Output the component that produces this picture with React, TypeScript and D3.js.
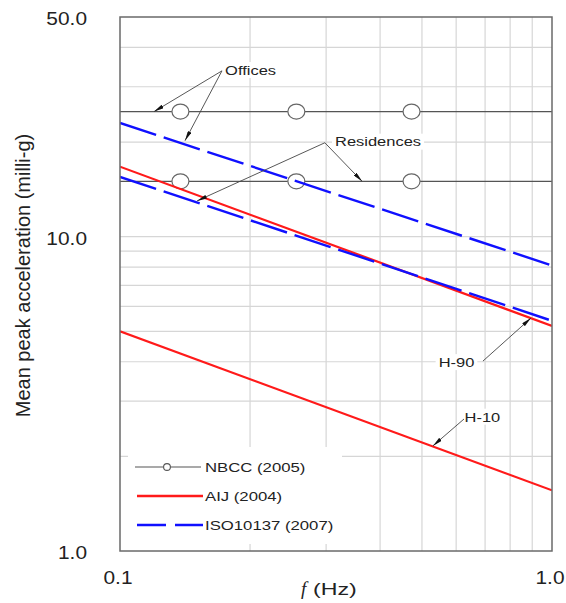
import React from 'react';
import * as d3 from 'd3';

const W = 566;
const H = 603;
const plot = { left: 120, top: 17, right: 552, bottom: 551 };

// Axes
const xDomain: [number, number] = [0.1, 1.0];
const yDomain: [number, number] = [1, 50];
const xTickValues = [0.1, 1.0];
const yTickValues = [1, 10, 50];
const xGridValues = [0.2, 0.3, 0.4, 0.5, 0.6, 0.7, 0.8, 0.9];
const yGridValues = [2, 3, 4, 5, 6, 7, 8, 9, 10, 20, 30, 40];

// NBCC (2005): constant limits in milli-g (offices, residences)
const nbccLimits = [25, 15];
const nbccMarkerFreqs = [0.138, 0.256, 0.473];

// AIJ (2004)
const aijFreqs = [0.1, 1.0];
const aijH90 = [16.7, 5.2];
const aijH10 = [5.0, 1.56];

// ISO 10137 (2007)
const isoFreqs = [0.1, 1.0];
const isoOffices = [23.0, 8.1];
const isoResidences = [15.5, 5.4];

const legendLabels = ['NBCC (2005)', 'AIJ (2004)', 'ISO10137 (2007)'];

// Callouts, anchored in data space: [frequency, acceleration]
type Pt = [number, number];
const callouts: { label: string; textAt: Pt; anchor: 'start' | 'middle'; from: Pt; to: Pt[] }[] = [
  { label: 'Offices', textAt: [0.1751, 33.9], anchor: 'start', from: [0.1722, 33.7], to: [[0.1199, 25], [0.1414, 20.2]] },
  { label: 'Residences', textAt: [0.3146, 20.06], anchor: 'start', from: [0.298, 19.9], to: [[0.1508, 13.0], [0.3634, 15.0]] },
  { label: 'H-90', textAt: [0.601, 3.99], anchor: 'middle', from: [0.692, 4.02], to: [[0.894, 5.51]] },
  { label: 'H-10', textAt: [0.69, 2.675], anchor: 'middle', from: [0.6256, 2.63], to: [[0.53, 2.16]] },
];

const FONT = '"Liberation Sans", Arial, Helvetica, sans-serif';

const x = d3.scaleLog().domain(xDomain).range([plot.left, plot.right]);
const y = d3.scaleLog().domain(yDomain).range([plot.bottom, plot.top]);

const line = d3
  .line<[number, number]>()
  .x((d) => x(d[0]))
  .y((d) => y(d[1]));

const zip = (fs: number[], vs: number[]): [number, number][] => fs.map((f, i) => [f, vs[i]]);

function SText({
  x: tx,
  y: ty,
  sx,
  size,
  anchor = 'start',
  children,
  fill = '#222',
}: {
  x: number;
  y: number;
  sx: number;
  size: number;
  anchor?: 'start' | 'middle' | 'end';
  children: React.ReactNode;
  fill?: string;
}) {
  return (
    <g transform={`translate(${tx},${ty}) scale(${sx},1)`}>
      <text textAnchor={anchor} fontSize={size} fontFamily={FONT} fill={fill}>
        {children}
      </text>
    </g>
  );
}

const CALLOUT_SIZE = 13.5;
const CALLOUT_SX = 1.22;

function approxWidth(label: string, size: number, sx: number) {
  // rough Arial advance widths, good enough for the label backgrounds
  const w: Record<string, number> = {
    O: 0.778, f: 0.278, i: 0.222, c: 0.5, e: 0.556, s: 0.5, R: 0.722, d: 0.556, n: 0.556,
    H: 0.722, '-': 0.333, '0': 0.556, '1': 0.556, '9': 0.556,
  };
  let t = 0;
  for (const ch of label) t += w[ch] ?? 0.556;
  return t * size * sx;
}

export default function App() {
  const nbccOfficesLine = nbccLimits[0];
  const nbccResLine = nbccLimits[1];

  return (
    <svg
      width={W}
      height={H}
      viewBox={`0 0 ${W} ${H}`}
      style={{ position: 'absolute', left: 0, top: 0, background: '#fff' }}
    >
      <defs>
        <marker
          id="arrowHead"
          viewBox="0 0 10 4"
          refX={10}
          refY={2}
          markerWidth={10}
          markerHeight={4}
          markerUnits="userSpaceOnUse"
          orient="auto"
        >
          <path d="M0,0 L10,2 L0,4 Z" fill="#111" />
        </marker>
        <clipPath id="plotClip">
          <rect x={plot.left} y={plot.top} width={plot.right - plot.left} height={plot.bottom - plot.top} />
        </clipPath>
      </defs>

      {/* grid */}
      <g stroke="#d6d6d6" strokeWidth={1.2}>
        {xGridValues.map((v) => (
          <line key={`gx${v}`} x1={x(v)} x2={x(v)} y1={plot.top} y2={plot.bottom} />
        ))}
        {yGridValues.map((v) => (
          <line key={`gy${v}`} x1={plot.left} x2={plot.right} y1={y(v)} y2={y(v)} />
        ))}
      </g>

      {/* legend background */}
      <rect x={128} y={447} width={214} height={97} fill="#fff" />

      {/* callout label backgrounds */}
      {callouts.map((c) => {
        const w = approxWidth(c.label, CALLOUT_SIZE, CALLOUT_SX);
        const cx = x(c.textAt[0]);
        const cy = y(c.textAt[1]);
        const left = c.anchor === 'start' ? cx : cx - w / 2;
        return <rect key={`bg${c.label}`} x={left - 3} y={cy - 8} width={w + 6} height={16} fill="#fff" />;
      })}

      <g clipPath="url(#plotClip)">
        {/* NBCC */}
        {[nbccOfficesLine, nbccResLine].map((v) => (
          <g key={`nbcc${v}`}>
            <line x1={plot.left} x2={plot.right} y1={y(v)} y2={y(v)} stroke="#555" strokeWidth={1.1} />
            {nbccMarkerFreqs.map((f) => (
              <ellipse key={f} cx={x(f)} cy={y(v)} rx={8.5} ry={7.5} fill="#fff" stroke="#666" strokeWidth={1.2} />
            ))}
          </g>
        ))}

        {/* AIJ */}
        <path d={line(zip(aijFreqs, aijH90)) ?? ''} fill="none" stroke="#ff1a1a" strokeWidth={2.2} />
        <path d={line(zip(aijFreqs, aijH10)) ?? ''} fill="none" stroke="#ff1a1a" strokeWidth={2.2} />

        {/* ISO 10137 */}
        <path
          d={line(zip(isoFreqs, isoOffices)) ?? ''}
          fill="none"
          stroke="#1010ff"
          strokeWidth={2.4}
          strokeDasharray="38 8"
        />
        <path
          d={line(zip(isoFreqs, isoResidences)) ?? ''}
          fill="none"
          stroke="#1010ff"
          strokeWidth={2.4}
          strokeDasharray="38 8"
        />
      </g>

      {/* callouts */}
      {callouts.map((c) => {
        const cx = x(c.textAt[0]);
        const cy = y(c.textAt[1]);
        return (
          <g key={c.label}>
            {c.to.map((t, i) => (
              <line
                key={i}
                x1={x(c.from[0])}
                y1={y(c.from[1])}
                x2={x(t[0])}
                y2={y(t[1])}
                stroke="#444"
                strokeWidth={0.9}
                markerEnd="url(#arrowHead)"
              />
            ))}
            <SText x={cx} y={cy + 0.358 * CALLOUT_SIZE} sx={CALLOUT_SX} size={CALLOUT_SIZE} anchor={c.anchor}>
              {c.label}
            </SText>
          </g>
        );
      })}

      {/* frame */}
      <rect
        x={plot.left}
        y={plot.top}
        width={plot.right - plot.left}
        height={plot.bottom - plot.top}
        fill="none"
        stroke="#6a6a6a"
        strokeWidth={1.5}
      />

      {/* legend */}
      <g>
        <line x1={135} x2={201} y1={467} y2={467} stroke="#555" strokeWidth={1.1} />
        <circle cx={167} cy={467} r={3.4} fill="#fff" stroke="#555" strokeWidth={1.1} />
        <line x1={137} x2={203} y1={496} y2={496} stroke="#ff1a1a" strokeWidth={2.4} />
        <line x1={137} x2={203} y1={525} y2={525} stroke="#1010ff" strokeWidth={2.4} strokeDasharray="29 9" />
        {legendLabels.map((l, i) => (
          <SText key={l} x={205} y={467 + i * 29 + 4.8} sx={1.24} size={13.5}>
            {l}
          </SText>
        ))}
      </g>

      {/* y tick labels */}
      {yTickValues.map((v) => (
        <SText key={`yt${v}`} x={87} y={y(v) + 8.4} sx={1.16} size={18} anchor="end">
          {d3.format('.1f')(v)}
        </SText>
      ))}

      {/* x tick labels */}
      {xTickValues.map((v) => (
        <SText key={`xt${v}`} x={x(v) - 2} y={584.4} sx={1.16} size={18} anchor="middle">
          {d3.format('.1f')(v)}
        </SText>
      ))}

      {/* axis titles */}
      <text
        x={301}
        y={595}
        fontFamily='"Liberation Serif", "Times New Roman", serif'
        fontStyle="italic"
        fontSize={19}
        fill="#222"
      >
        f
      </text>
      <SText x={313} y={595} sx={1.45} size={16}>
        (Hz)
      </SText>
      <text
        transform="translate(30,275.5) rotate(-90)"
        textAnchor="middle"
        fontFamily={FONT}
        fontSize={20}
        fill="#222"
      >
        Mean peak acceleration (milli-g)
      </text>
    </svg>
  );
}
